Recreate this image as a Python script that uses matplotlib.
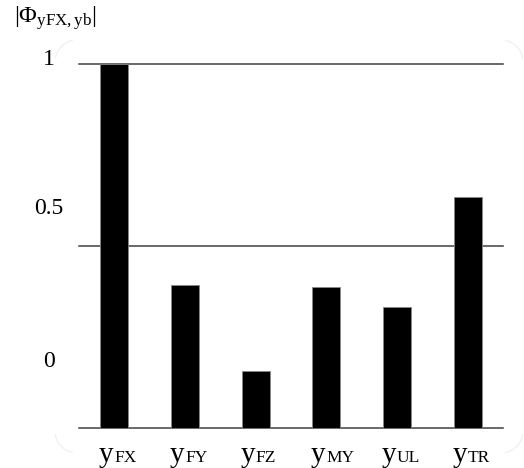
import matplotlib
matplotlib.use("Agg")
from matplotlib import pyplot as plt
from matplotlib.patches import Arc

plt.rcParams['font.family'] = ['Liberation Serif', 'DejaVu Serif']
plt.rcParams['mathtext.fontset'] = 'custom'
plt.rcParams['mathtext.rm'] = 'Liberation Serif'
plt.rcParams['mathtext.it'] = 'Liberation Serif:italic'

# data
subscripts = ['FX', 'FY', 'FZ', 'MY', 'UL', 'TR']
phi = [1.0, 0.394, 0.158, 0.387, 0.333, 0.634]
grid_vals = [0.5, 1.0]
ytick_labels = ['0', '0.5', '1']
ytick_label_pos = [0.19, 0.61, 1.02]  # labels sit above their lines in the original

W, H = 524, 468
fig = plt.figure(figsize=(W / 100, H / 100), dpi=100)
ax = fig.add_axes([79 / W, 1 - 428 / H, (503 - 79) / W, (428 - 57) / H])

x = list(range(len(phi)))
ax.bar(x, phi, width=0.4, color='black', edgecolor='#888888', linewidth=0.6, zorder=3)
for g in grid_vals:
    ax.axhline(g, color='#404040', lw=1.1, zorder=1, clip_on=False)

ax.set_xlim(-0.5, len(phi) - 0.5)
ax.set_ylim(0, 1)
for s in ['top', 'right', 'left']:
    ax.spines[s].set_visible(False)
ax.spines['bottom'].set_color('#404040')
ax.spines['bottom'].set_linewidth(1.1)

ax.set_xticks(x)
ax.set_xticklabels([''] * len(x))
ax.tick_params(axis='x', length=0)
ax.set_yticks(ytick_label_pos)
ax.set_yticklabels(ytick_labels, fontsize=17, ha='center')
ax.tick_params(axis='y', length=0, pad=21.5)

# category labels: big "y" with small-caps subscript on same baseline
for i, sub in zip(x, subscripts):
    ax.annotate('y', xy=(i, 0), xycoords=('data', 'axes fraction'),
                xytext=(-0.5, -24.5), textcoords='offset points',
                ha='right', va='baseline', fontsize=21)
    ax.annotate(sub, xy=(i, 0), xycoords=('data', 'axes fraction'),
                xytext=(0, -24.5), textcoords='offset points',
                ha='left', va='baseline', fontsize=12.5)

fig.text(14 / W, 1 - 18 / H, r'$|\Phi_{\mathrm{yFX,yb}}|$', fontsize=17.5,
         ha='left', va='center')

# faint rounded-corner frame remnants
r = 22
for cx, cy, t1, t2 in [(77, 62, 100, 170), (77, 431, 190, 260),
                       (501, 431, 280, 350), (501, 62, 10, 80)]:
    fig.add_artist(Arc((cx / W, 1 - cy / H), 2 * r / W, 2 * r / H,
                       theta1=t1, theta2=t2, color='#f0f0f0', lw=1.0,
                       transform=fig.transFigure))

fig.savefig('out.png', dpi=100)
